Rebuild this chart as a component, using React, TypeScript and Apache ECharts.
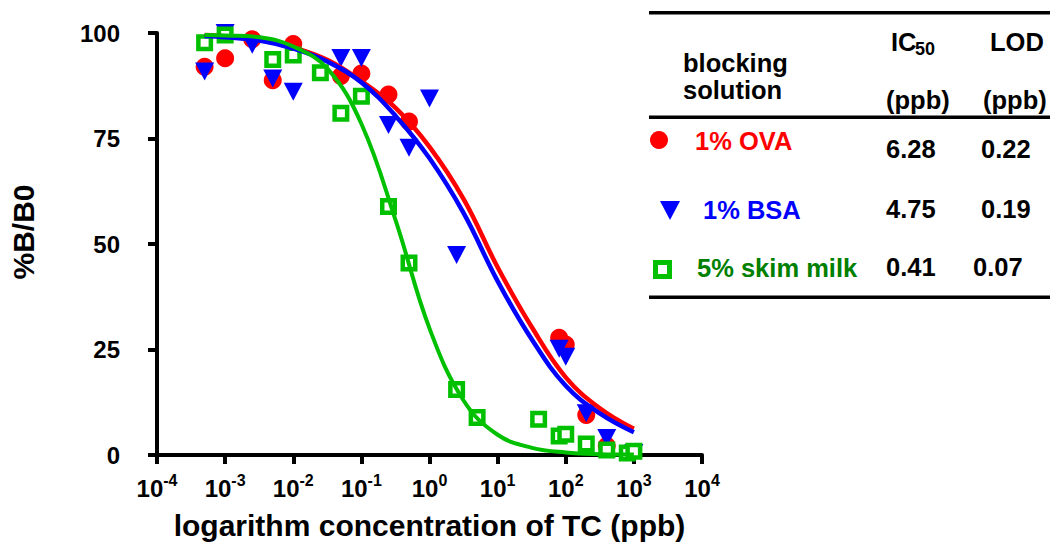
import React, { useEffect, useRef } from 'react';
import * as echarts from 'echarts';

const FONT = '"Liberation Sans", Arial, Helvetica, sans-serif';

// measured points: concentration of TC (ppb) and %B/B0
const ovaConc = [0.0005, 0.001, 0.0025, 0.005, 0.01, 0.025, 0.05, 0.1, 0.25, 0.5, 80, 100, 200, 400];
const ovaValue = [92, 94, 98.5, 88.8, 97.4, 100.2, 89.8, 90.4, 85.4, 79, 27.8, 26.2, 9.5, 2.2];

const bsaConc = [0.0005, 0.001, 0.0025, 0.005, 0.01, 0.05, 0.1, 0.25, 0.5, 1, 2.5, 80, 100, 200, 400, 1000];
const bsaValue = [90.9, 100, 97.2, 89.2, 86.1, 94.1, 94.1, 78.2, 72.8, 84.5, 47.4, 25.2, 23.3, 9.9, 4.0, 0.5];

const milkConc = [0.0005, 0.001, 0.0025, 0.005, 0.01, 0.025, 0.05, 0.1, 0.25, 0.5, 2.5, 5, 40, 80, 100, 200, 400, 800, 1000];
const milkValue = [97.7, 99.5, 100.2, 93.7, 94.8, 90.6, 81, 85, 58.9, 45.5, 15.5, 8.9, 8.5, 4.5, 4.9, 2.6, 1.2, 0.5, 0.9];

// fitted curves at half-decade steps
const curveConc = [0.0005, 0.001, 0.0032, 0.01, 0.032, 0.1, 0.32, 1, 3.2, 10, 32, 100, 320, 1000];
const ovaCurve = [99.5, 99.2, 98.5, 96.6, 93.6, 88.6, 82.2, 73, 60.5, 44.5, 30.2, 18.4, 11, 6.2];
const bsaCurve = [99.3, 99.0, 98.2, 96.3, 93.2, 88.3, 80.3, 70.3, 57.2, 41.2, 27.3, 16.4, 9.8, 5.4];
const milkCurve = [99.5, 99.4, 99, 96.8, 91.5, 78.5, 55.5, 30, 12.8, 4.8, 1.7, 0.6, 0.2, 0.1];

// table
const tableNames = ['1% OVA', '1% BSA', '5% skim milk'];
const tableColors = ['#FF0000', '#0000FF', '#008000'];
const ic50Values = ['6.28', '4.75', '0.41'];
const lodValues = ['0.22', '0.19', '0.07'];

const RED = '#FF0000';
const BLUE = '#0000FF';
const GREEN = '#00C000';

const pair = (xs: number[], ys: number[]) => xs.map((x, i) => [x, ys[i]]);

function txt(text: string, x: number, y: number, fill = '#000', fontSize = 25.5, align = 'left') {
  return {
    type: 'text',
    x,
    y,
    style: {
      text,
      fill,
      fontSize,
      fontWeight: 'bold',
      fontFamily: FONT,
      align,
      verticalAlign: 'middle',
      textAlign: align,
      textVerticalAlign: 'middle',
    },
  };
}

export default function App() {
  const ref = useRef<HTMLDivElement>(null);
  useEffect(() => {
    const chart = echarts.init(ref.current!, null, { renderer: 'svg' });
    const rowY = [141, 210, 268];
    const numY = [149, 209, 267];
    const graphic: any[] = [
      { type: 'rect', shape: { x: 649, y: 11, width: 401, height: 3.5 }, style: { fill: '#000' } },
      { type: 'rect', shape: { x: 649, y: 115.5, width: 401, height: 3.5 }, style: { fill: '#000' } },
      { type: 'rect', shape: { x: 649, y: 295.5, width: 401, height: 3.5 }, style: { fill: '#000' } },
      txt('blocking', 683, 63),
      txt('solution', 683, 90),
      txt('IC', 891, 42),
      txt('50', 915, 49, '#000', 18),
      txt('LOD', 990, 42),
      txt('(ppb)', 886, 100),
      txt('(ppb)', 983, 100),
      { type: 'circle', shape: { cx: 659, cy: 140, r: 9 }, style: { fill: RED } },
      { type: 'polygon', shape: { points: [[660, 201], [680, 201], [670, 220]] }, style: { fill: BLUE } },
      { type: 'rect', shape: { x: 655.5, y: 262.5, width: 14, height: 14 }, style: { fill: '#fff', stroke: GREEN, lineWidth: 5 } },
      txt(tableNames[0], 695, rowY[0], tableColors[0]),
      txt(tableNames[1], 703, rowY[1], tableColors[1]),
      txt(tableNames[2], 697, rowY[2], tableColors[2]),
      txt(ic50Values[0], 886, numY[0]),
      txt(ic50Values[1], 886, numY[1]),
      txt(ic50Values[2], 886, numY[2]),
      txt(lodValues[0], 981, numY[0]),
      txt(lodValues[1], 981, numY[1]),
      txt(lodValues[2], 973, numY[2]),
    ];

    const axisCommon = {
      axisLine: { show: true, lineStyle: { color: '#000', width: 4 } },
      axisTick: { show: true, length: 9, lineStyle: { color: '#000', width: 4 } },
      splitLine: { show: false },
    };

    chart.setOption({
      animation: false,
      backgroundColor: '#fff',
      grid: { left: 157, right: 348, top: 33, bottom: 85.5 },
      xAxis: {
        type: 'log',
        logBase: 10,
        min: 0.0001,
        max: 10000,
        splitNumber: 8,
        ...axisCommon,
        name: 'logarithm concentration of TC (ppb)',
        nameLocation: 'middle',
        nameGap: 55,
        nameTextStyle: { fontSize: 30, fontWeight: 'bold', fontFamily: FONT, color: '#000' },
        axisLabel: {
          margin: 17,
          color: '#000',
          fontFamily: FONT,
          fontWeight: 'bold',
          fontSize: 24,
          formatter: (v: number) => '{b|10}{s|' + Math.round(Math.log10(v)) + '}',
          rich: {
            b: { fontSize: 24, fontWeight: 'bold', fontFamily: FONT, color: '#000', lineHeight: 28, verticalAlign: 'bottom' },
            s: { fontSize: 16, fontWeight: 'bold', fontFamily: FONT, color: '#000', lineHeight: 22, verticalAlign: 'top' },
          },
        },
      },
      yAxis: {
        type: 'value',
        min: 0,
        max: 100,
        interval: 25,
        ...axisCommon,
        name: '%B/B0',
        nameLocation: 'middle',
        nameGap: 119,
        nameTextStyle: { fontSize: 30, fontWeight: 'bold', fontFamily: FONT, color: '#000', padding: [0, 0, 0, 24] },
        axisLabel: { margin: 37, color: '#000', fontFamily: FONT, fontWeight: 'bold', fontSize: 24 },
      },
      series: [
        { type: 'line', data: pair(curveConc, ovaCurve), smooth: 0.4, showSymbol: false, symbol: 'none', lineStyle: { color: RED, width: 4.5 }, silent: true },
        { type: 'line', data: pair(curveConc, bsaCurve), smooth: 0.4, showSymbol: false, symbol: 'none', lineStyle: { color: BLUE, width: 4.5 }, silent: true },
        { type: 'line', data: pair(curveConc, milkCurve), smooth: 0.4, showSymbol: false, symbol: 'none', lineStyle: { color: GREEN, width: 4 }, silent: true },
        { type: 'scatter', name: '1% OVA', data: pair(ovaConc, ovaValue), symbol: 'circle', symbolSize: 18, itemStyle: { color: RED, opacity: 1 } },
        { type: 'scatter', name: '1% BSA', data: pair(bsaConc, bsaValue), symbol: 'triangle', symbolRotate: 180, symbolSize: [19, 18], itemStyle: { color: BLUE, opacity: 1 } },
        { type: 'scatter', name: '5% skim milk', data: pair(milkConc, milkValue), symbol: 'rect', symbolSize: 12.5, itemStyle: { color: '#fff', borderColor: GREEN, borderWidth: 4.5, opacity: 1 } },
      ],
      graphic,
    });
    return () => chart.dispose();
  }, []);
  return <div ref={ref} style={{ position: 'absolute', left: 0, top: 0, width: 1050, height: 545 }} />;
}
